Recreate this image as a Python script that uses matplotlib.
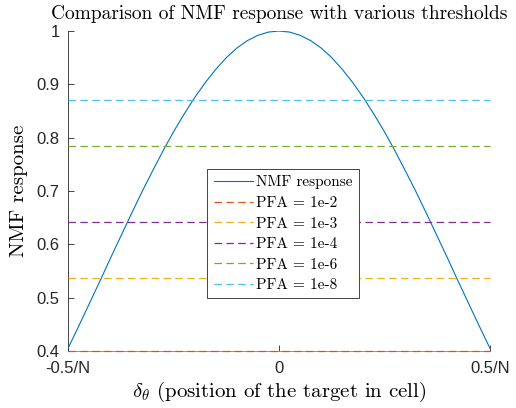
import matplotlib
matplotlib.use("Agg")
import matplotlib.pyplot as plt

# NMF response
delta = [-0.500, -0.475, -0.450, -0.425, -0.400, -0.375, -0.350, -0.325, -0.300, -0.275,
         -0.250, -0.225, -0.200, -0.175, -0.150, -0.125, -0.100, -0.075, -0.050, -0.025,
         0.000, 0.025, 0.050, 0.075, 0.100, 0.125, 0.150, 0.175, 0.200, 0.225,
         0.250, 0.275, 0.300, 0.325, 0.350, 0.375, 0.400, 0.425, 0.450, 0.475, 0.500]
nmf = [0.405, 0.446, 0.488, 0.530, 0.573, 0.615, 0.657, 0.698, 0.737, 0.775,
       0.811, 0.844, 0.875, 0.903, 0.928, 0.950, 0.968, 0.982, 0.992, 0.998,
       1.000, 0.998, 0.992, 0.982, 0.968, 0.950, 0.928, 0.903, 0.875, 0.844,
       0.811, 0.775, 0.737, 0.698, 0.657, 0.615, 0.573, 0.530, 0.488, 0.446, 0.405]

# thresholds for each PFA
pfa_labels = ["PFA = 1e-2", "PFA = 1e-3", "PFA = 1e-4", "PFA = 1e-6", "PFA = 1e-8"]
thresholds = [0.4005, 0.536, 0.641, 0.785, 0.871]

x_ticks = [-0.5, 0, 0.5]
x_ticklabels = ["-0.5/N", "0", "0.5/N"]
y_ticks = [0.4, 0.5, 0.6, 0.7, 0.8, 0.9, 1]
y_ticklabels = ["0.4", "0.5", "0.6", "0.7", "0.8", "0.9", "1"]

# matlab default colours
colors = [(0.85, 0.325, 0.098), (0.929, 0.694, 0.125), (0.494, 0.184, 0.556),
          (0.466, 0.674, 0.188), (0.301, 0.745, 0.933)]

plt.rcParams["mathtext.fontset"] = "cm"
serif = ["cmr10", "DejaVu Serif"]

fig = plt.figure(figsize=(5.16, 4.08), dpi=100)
ax = fig.add_axes([0.1318, 0.1397, 0.8178, 0.7843])

ax.plot(delta, nmf, color=(0.0, 0.447, 0.741), lw=0.8, label="NMF response", zorder=3)
for thr, lab, c in zip(thresholds, pfa_labels, colors):
    ax.plot([delta[0], delta[-1]], [thr, thr], "--", color=c, lw=0.9,
            dashes=(6, 3.5), label=lab, zorder=3, clip_on=False)

ax.set_xlim(-0.5, 0.5)
ax.set_ylim(0.4, 1.0)
ax.set_xticks(x_ticks)
ax.set_xticklabels(x_ticklabels)
ax.set_yticks(y_ticks)
ax.set_yticklabels(y_ticklabels)

for s in ["top", "right"]:
    ax.spines[s].set_visible(False)
for s in ["left", "bottom"]:
    ax.spines[s].set_color((0.5, 0.5, 0.5))
    ax.spines[s].set_linewidth(0.6)
    ax.spines[s].set_zorder(2)
ax.spines["left"].set_color((0.15, 0.15, 0.15))

ax.tick_params(direction="in", length=4, width=0.6, color=(0.15, 0.15, 0.15),
               labelsize=12, labelcolor=(0.15, 0.15, 0.15))
ax.tick_params(axis="x", pad=7)
ax.tick_params(axis="y", pad=6)
for t in ax.get_xticklabels() + ax.get_yticklabels():
    t.set_fontfamily(["Liberation Sans", "DejaVu Sans"])

ax.set_title("Comparison of NMF response with various thresholds",
             fontfamily=serif, fontsize=14, pad=9)
ax.set_xlabel(r"$\delta_\theta$ (position of the target in cell)",
              fontfamily=serif, fontsize=15, labelpad=3)
ax.set_ylabel("NMF response", fontfamily=serif, fontsize=15, labelpad=6)

leg = ax.legend(loc="center", bbox_to_anchor=(0.51, 0.366), prop={"family": serif, "size": 11},
                fancybox=False, framealpha=1, edgecolor=(0.15, 0.15, 0.15),
                handlelength=2.6, handletextpad=0.2, borderpad=0.4, labelspacing=0.45)
leg.get_frame().set_linewidth(0.6)

fig.savefig("out.png", dpi=100)
